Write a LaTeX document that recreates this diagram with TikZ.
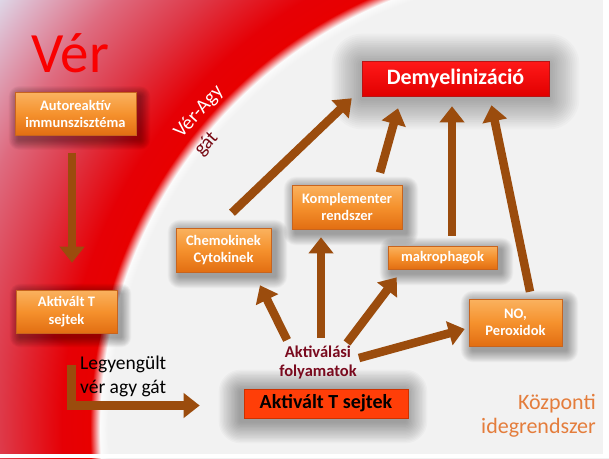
\documentclass[tikz,border=0pt]{standalone}
\usepackage{fontspec}
\setmainfont{Carlito}
\usetikzlibrary{arrows.meta,calc}
\definecolor{arrbrown}{RGB}{155,76,13}
\definecolor{otop}{RGB}{250,178,95}
\definecolor{omid}{RGB}{245,145,45}
\definecolor{obot}{RGB}{226,110,18}
\definecolor{oborder}{RGB}{200,100,30}
\definecolor{demytop}{RGB}{255,25,25}
\definecolor{demybot}{RGB}{225,0,0}
\definecolor{demyborder}{RGB}{185,20,20}
\definecolor{aktfill}{RGB}{255,62,8}
\definecolor{aktborder}{RGB}{205,50,0}
\definecolor{darkred}{RGB}{122,10,30}
\definecolor{gatred}{RGB}{120,10,20}
\definecolor{verred}{RGB}{250,0,0}
\definecolor{kozp}{RGB}{228,125,60}
\pgfdeclareradialshading{bgshade}{\pgfpointorigin}{%
rgb(0bp)=(0.949,0.949,0.949);
rgb(15.76bp)=(0.949,0.949,0.949);
rgb(16.04bp)=(0.985,0.985,0.985);
rgb(16.39bp)=(0.91,0,0);
rgb(17.36bp)=(0.90,0,0.02);
rgb(19.44bp)=(0.87,0.22,0.28);
rgb(21.53bp)=(0.87,0.42,0.50);
rgb(23.61bp)=(0.87,0.70,0.78);
rgb(24.76bp)=(0.87,0.87,0.93);
rgb(25bp)=(0.87,0.88,0.94);
rgb(50bp)=(0.87,0.88,0.94)}
\pgfdeclarelayer{bglayer}
\pgfdeclarelayer{shlayer}
\pgfsetlayers{bglayer,shlayer,main}
\newcommand\boxglow[5]{%
  \foreach \k in {1,...,16}{%
    \pgfmathsetmacro\rr{\k*#4/16}%
    \fill[black,opacity=#5,rounded corners=\rr pt]
      ($(#1.south west)+({#2-\rr},{#3+\rr})$) rectangle
      ($(#1.north east)+({#2+\rr},{#3-\rr})$);
  }}
\tikzset{
  obox/.style={draw=oborder, line width=0.6pt, top color=otop, bottom color=obot,
    middle color=omid, text=white, font=\bfseries\fontsize{14.5}{17.5}\selectfont,
    align=center, inner sep=0pt},
  arr/.style={draw=arrbrown, line width=8.5pt, -{Triangle[width=24pt,length=16pt]}},
}
\begin{document}
\begin{tikzpicture}[x=1pt,y=-1pt]
\useasboundingbox (0,0) rectangle (609,458);
\begin{pgfonlayer}{bglayer}
\clip (0,0) rectangle (609,458);
\shade[shading=bgshade] (562,429) circle[radius=720pt];
\fill[white] (603,0) rectangle (609,458);
\fill[white] (0,454) rectangle (609,458);
\end{pgfonlayer}

% boxes
\node[obox, minimum width=121pt, minimum height=43pt] (auto) at (75.5,114) {Autoreaktív\\immunszisztéma};
\node[obox, minimum width=101pt, minimum height=43pt] (lt) at (66.5,311.5) {Aktivált T\\sejtek};
\node[obox, minimum width=110pt, minimum height=44pt] (kompl) at (347,207) {Komplementer\\rendszer};
\node[obox, minimum width=95pt, minimum height=44pt] (chemo) at (223.5,250) {Chemokinek\\Cytokinek};
\node[obox, minimum width=109pt, minimum height=23pt] (makro) at (442.5,257.5) {makrophagok};
\node[obox, minimum width=93pt, minimum height=47pt] (no) at (515.5,322.5) {NO,\\Peroxidok};
\node[draw=demyborder, line width=0.6pt, top color=demytop, bottom color=demybot,
  text=white, font=\bfseries\fontsize{22}{26}\selectfont, inner sep=0pt,
  minimum width=187pt, minimum height=35pt] (demy) at (455.5,78.5) {Demyelinizáció};
\node[draw=aktborder, line width=0.6pt, fill=aktfill, text=black,
  font=\bfseries\fontsize{20}{24}\selectfont, inner sep=0pt,
  minimum width=164pt, minimum height=29pt] (aktT) at (326,403.5) {Aktivált T sejtek};

% texts
\node[anchor=base west, text=verred, font=\fontsize{57}{60}\selectfont, inner sep=0pt] (ver) at (31,72) {Vér};
\node[align=left, font=\fontsize{20}{27}\selectfont, rotate=48, inner sep=0pt] (verAgy) at (209,121) {\textcolor{white}{Vér-Agy}\\\textcolor{gatred}{gát}};
\node[anchor=north west, align=left, text=black, font=\fontsize{19.5}{24}\selectfont, inner sep=0pt] (legy) at (80,356) {Legyengült\\vér agy gát};
\node[align=center, text=darkred, font=\bfseries\fontsize{16.5}{19}\selectfont, inner sep=0pt] (akt) at (318,362) {Aktiválási\\folyamatok};
\node[anchor=north east, align=right, text=kozp, font=\fontsize{22}{24}\selectfont, inner sep=0pt] (kozp) at (596,394) {Központi\\idegrendszer};

% shadows
\begin{pgfonlayer}{shlayer}
\boxglow{auto}{4}{4}{10}{0.022}
\boxglow{lt}{4}{4}{10}{0.022}
\boxglow{kompl}{4}{4}{12}{0.022}
\boxglow{chemo}{4}{4}{12}{0.022}
\boxglow{makro}{4}{4}{12}{0.022}
\boxglow{no}{4}{4}{12}{0.022}
\boxglow{demy}{0}{3}{30}{0.018}
\boxglow{aktT}{-3}{3}{22}{0.025}
\end{pgfonlayer}

% arrows
\draw[arr] ([shift={(-3.5,17)}]auto.south) -- ([shift={(5.5,-27)}]lt.north);
\draw[arr] ([shift={(5,32)}]lt.south) |- ([shift={(-44,2)}]aktT.west);
\draw[arr] ([shift={(8.5,-15)}]chemo.north) -- ([shift={(-10,2)}]demy.south west);
\draw[arr] ([shift={(33,-12)}]kompl.north) -- ([shift={(-57.5,12)}]demy.south);
\draw[arr] ([shift={(9.5,-10)}]makro.north) -- ([shift={(-3.5,10)}]demy.south);
\draw[arr] ([shift={(14.5,-7)}]no.north) -- ([shift={(36,9)}]demy.south);
\draw[arr] ([shift={(-31,-22)}]akt.center) -- ([shift={(36.5,13)}]chemo.south);
\draw[arr] ([shift={(3,-24)}]akt.center) -- ([shift={(-26,8)}]kompl.south);
\draw[arr] ([shift={(29,-19)}]akt.center) -- ([shift={(9,8)}]makro.south west);
\draw[arr] ([shift={(41,-4)}]akt.center) -- ([shift={(-4,6.5)}]no.west);
\end{tikzpicture}
\end{document}
